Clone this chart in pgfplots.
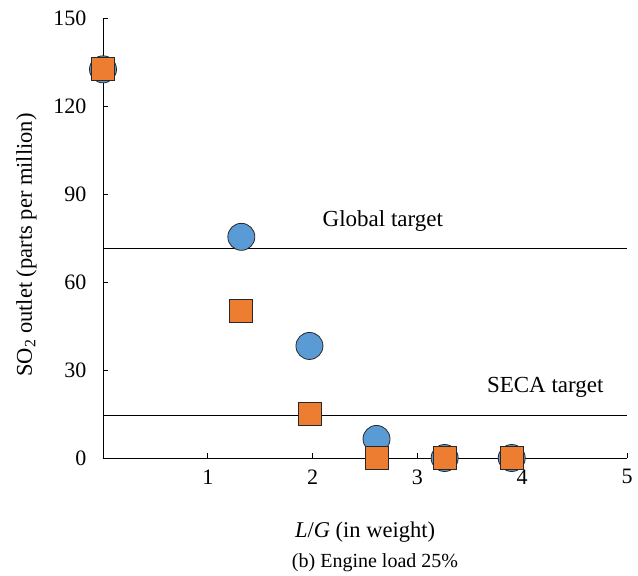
\documentclass[border=0pt]{standalone}
\usepackage{fontspec}
\setmainfont{Liberation Serif}
\usepackage{pgfplots}
\pgfplotsset{compat=1.18}
\definecolor{cblue}{RGB}{91,155,213}
\definecolor{corange}{RGB}{237,125,49}
\definecolor{cedge}{RGB}{40,40,40}
\begin{document}
\begin{tikzpicture}
\useasboundingbox (-103bp,-118bp) rectangle (535bp,458bp);
\begin{axis}[
  at={(0,0)}, anchor=south west,
  scale only axis, width=524bp, height=440bp,
  xmin=0, xmax=5, ymin=0, ymax=150,
  axis x line*=bottom, axis y line*=left,
  axis line style={line width=0.8bp},
  xtick={1,2,3,4,5}, ytick={0,30,60,90,120,150},
  tick align=inside, major tick length=5bp,
  tick style={line width=0.8bp, black},
  /pgf/number format/assume math mode=true,
  tick label style={font=\fontsize{22bp}{26bp}\selectfont},
  yticklabel style={xshift=-13bp},
  xticklabel style={yshift=-8bp},
  label style={font=\fontsize{22.5bp}{26bp}\selectfont},
  xlabel={\textit{L}/\textit{G} (in weight)},
  ylabel={SO\textsubscript{2} outlet (parts per million)},
  xlabel style={at={(axis description cs:0.5,-0.18)}, anchor=base},
  ylabel style={at={(axis description cs:-0.1355,0.484)}, anchor=base, rotate=0},
  clip=false,
]
\addplot[black, line width=0.9bp] coordinates {(0,71.5) (5,71.5)};
\addplot[black, line width=0.9bp] coordinates {(0,14.6) (5,14.6)};
\addplot[only marks, mark=*, mark size=13.5bp,
  mark options={fill=cblue, draw=cedge, line width=0.8bp}]
  coordinates {(0,132.5) (1.32,75.4) (1.97,38.2) (2.61,6.5) (3.26,0) (3.9,0)};
\addplot[only marks, mark=square*, mark size=11.5bp,
  mark options={fill=corange, draw=cedge, line width=0.8bp}]
  coordinates {(0,132.6) (1.32,50.1) (1.97,15) (2.61,0) (3.26,0) (3.9,0)};
\node[anchor=base, font=\fontsize{23bp}{26bp}\selectfont] at (axis cs:2.67,78.8) {Global target};
\node[anchor=base, font=\fontsize{23bp}{26bp}\selectfont] at (axis cs:4.22,22.2) {SECA target};
\end{axis}
\node[anchor=base, font=\fontsize{20bp}{24bp}\selectfont] at (272bp,-109bp) {(b) Engine load 25\%};
\end{tikzpicture}
\end{document}
